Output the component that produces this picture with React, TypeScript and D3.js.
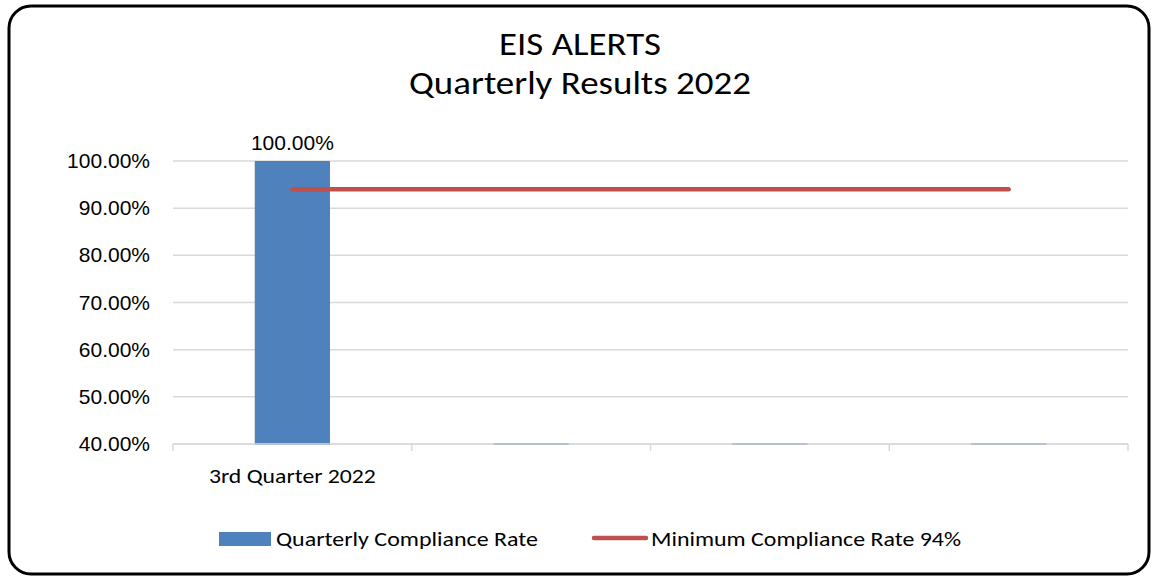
import * as d3 from "d3";

const categories = ["3rd Quarter 2022", "", "", ""];
const complianceRate = [1.0, 0, 0, 0];
const minimumRate = [0.94, 0.94, 0.94, 0.94];
const yTicks = [0.4, 0.5, 0.6, 0.7, 0.8, 0.9, 1.0];
const titleLines = ["EIS ALERTS", "Quarterly Results 2022"];
const legendLabels = ["Quarterly Compliance Rate", "Minimum Compliance Rate 94%"];

const W = 1152;
const H = 577;
const plot = { left: 173, right: 1128, top: 161, bottom: 444 };
const BAR = "#4F81BD";
const LINE = "#C0504D";
const calibri = "Carlito, Lato, 'Open Sans', sans-serif";
const arial = "'Liberation Sans', Arial, sans-serif";

export default function App() {
  const x = d3.scaleBand<number>()
    .domain(d3.range(categories.length))
    .range([plot.left, plot.right]);
  const y = d3.scaleLinear().domain([0.4, 1.0]).range([plot.bottom, plot.top]);
  const bw = x.bandwidth() * 0.315;
  const fmt = d3.format(".2%");
  const mid = (i: number) => x(i)! + x.bandwidth() / 2;

  const line = d3.line<number>()
    .x((_, i) => mid(i))
    .y((d) => y(d));

  return (
    <svg width={W} height={H} style={{ position: "absolute", left: 0, top: 0, background: "#fff" }}>
      <rect x={9} y={6} width={1140} height={568} rx={22} fill="#fff" stroke="#000" strokeWidth={3} />

      {/* title */}
      <text x={580} y={55} textAnchor="middle" fontFamily={calibri} fontSize={32} fill="#000"
        textLength={162} lengthAdjust="spacingAndGlyphs">{titleLines[0]}</text>
      <text x={580} y={94} textAnchor="middle" fontFamily={calibri} fontSize={32} fill="#000"
        textLength={342} lengthAdjust="spacingAndGlyphs">{titleLines[1]}</text>

      {/* gridlines */}
      {yTicks.map((t) => (
        <line key={t} x1={plot.left} x2={plot.right} y1={y(t)} y2={y(t)} stroke="#d9d9d9" strokeWidth={1.5} />
      ))}
      {yTicks.map((t) => (
        <text key={"l" + t} transform={`translate(150,${y(t) + 7}) scale(1.05,1)`} textAnchor="end"
          fontFamily={arial} fontSize={20} fill="#000">{fmt(t)}</text>
      ))}

      {/* bars */}
      {complianceRate.map((v, i) => {
        const x0 = x(i)! + (x.bandwidth() - bw) / 2;
        const top = Math.min(y(Math.max(v, 0.4)), plot.bottom - 1);
        return (
          <g key={i}>
            <rect x={x0} y={top} width={bw} height={plot.bottom - top + 1} fill={BAR} />
            {v >= 0.4 && (
              <text transform={`translate(${x0 + bw / 2},${top - 11}) scale(1.05,1)`} textAnchor="middle"
                fontFamily={arial} fontSize={20} fill="#000">{fmt(v)}</text>
            )}
          </g>
        );
      })}

      {/* x axis */}
      <line x1={plot.left} x2={plot.right} y1={plot.bottom} y2={plot.bottom} stroke="#d9d9d9" strokeWidth={1.5} />
      {d3.range(categories.length + 1).map((i) => {
        const xx = i < categories.length ? x(i)! : plot.right;
        return <line key={i} x1={xx} x2={xx} y1={plot.bottom} y2={plot.bottom + 7} stroke="#d9d9d9" strokeWidth={1.5} />;
      })}
      {categories.map((c, i) => c && (
        <text key={i} x={mid(i)} y={483} textAnchor="middle" fontFamily={calibri} fontSize={21} fill="#000"
          textLength={167} lengthAdjust="spacingAndGlyphs">{c}</text>
      ))}

      {/* minimum line */}
      <path d={line(minimumRate)!} fill="none" stroke={LINE} strokeWidth={4.5} strokeLinecap="round" />

      {/* legend */}
      <rect x={219} y={532} width={52} height={14} fill={BAR} />
      <text x={276} y={546} fontFamily={calibri} fontSize={21} fill="#000"
        textLength={262} lengthAdjust="spacingAndGlyphs">{legendLabels[0]}</text>
      <line x1={594} x2={646} y1={538} y2={538} stroke={LINE} strokeWidth={4.5} strokeLinecap="round" />
      <text x={651} y={546} fontFamily={calibri} fontSize={21} fill="#000"
        textLength={310} lengthAdjust="spacingAndGlyphs">{legendLabels[1]}</text>
    </svg>
  );
}
